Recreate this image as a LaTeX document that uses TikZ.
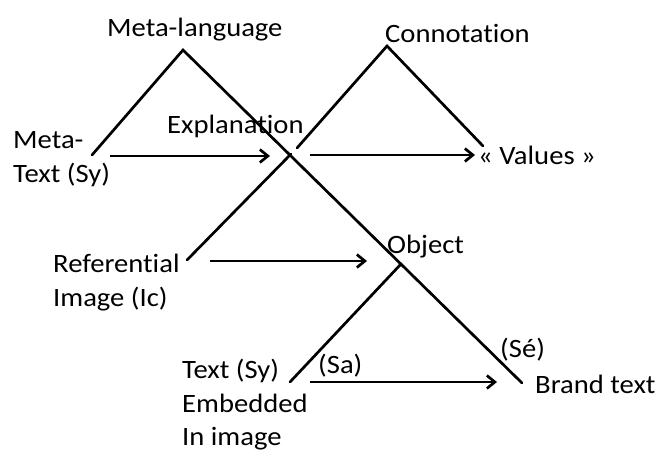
\documentclass[tikz,border=0pt]{standalone}
\usepackage{fontspec}
\setmainfont{Carlito}[FakeStretch=1.08, Ligatures=NoCommon]
\usetikzlibrary{arrows.meta}
\begin{document}
\begin{tikzpicture}[x=1pt,y=-1pt,
  tri/.style={line width=2.7pt, line cap=round},
  arr/.style={line width=2.7pt, -{Straight Barb[length=8pt,width=13pt]}},
  lbl/.style={inner sep=0pt, anchor=base west, font=\fontsize{26.5}{34}\selectfont, align=left}]
\useasboundingbox[fill=white] (0,0) rectangle (660,453);
% triangle corners
\coordinate (MLl) at (92,155);
\coordinate (MLa) at (183,50);
\coordinate (MLr) at (522,383);
\coordinate (COl) at (297,148);
\coordinate (COa) at (387,46);
\coordinate (COr) at (483,146);
\coordinate (X) at (291,154);
\coordinate (RIe) at (187,260);
\coordinate (OBa) at (401,264);
\coordinate (OBl) at (290,382);
% arrow ends
\coordinate (a1s) at (110,156);
\coordinate (a1e) at (270,156);
\coordinate (a2s) at (310,155);
\coordinate (a2e) at (475,155);
\coordinate (a3s) at (210,261);
\coordinate (a3e) at (367,261);
\coordinate (a4s) at (310,382);
\coordinate (a4e) at (497,382);
% triangles
\draw[tri] (MLl) -- (MLa) -- (MLr);
\draw[tri] (COl) -- (COa) -- (COr);
\draw[tri] (X) -- (RIe);
\draw[tri] (OBl) -- (OBa);
% arrows
\draw[arr] (a1s) -- (a1e);
\draw[arr] (a2s) -- (a2e);
\draw[arr] (a3s) -- (a3e);
\draw[arr] (a4s) -- (a4e);
% labels
\node[lbl] (ml) at (107,36.7) {Meta-language};
\node[lbl] (co) at (385,42) {Connotation};
\node[lbl] (ex) at (167,133) {Explanation};
\node[lbl] (mt) at (13,182) {Meta-\\Text (Sy)};
\node[lbl] (va) at (478,164) {« Values »};
\node[lbl] (ri) at (53,306) {Referential\\Image (Ic)};
\node[lbl] (ob) at (387,253) {Object};
\node[lbl, font=\fontsize{26.5}{33.3}\selectfont] (te) at (182,445.5) {Text (Sy)\\Embedded\\In image};
\node[lbl] (sa) at (318,373) {(Sa)};
\node[lbl] (se) at (500,357) {(Sé)};
\node[lbl] (br) at (535,393) {Brand text};
\end{tikzpicture}
\end{document}
